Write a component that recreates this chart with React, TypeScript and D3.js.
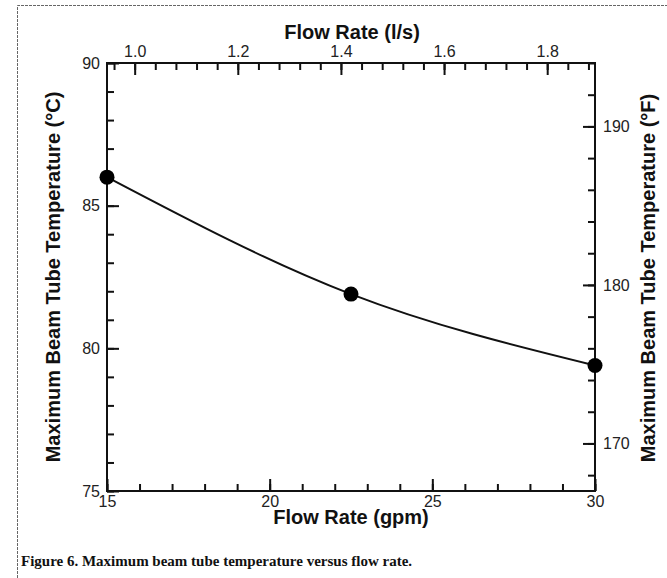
import React, { useEffect, useRef } from 'react';
import * as d3 from 'd3';

// data
const flowGpm = [15, 22.5, 30];
const maxTempC = [86.0, 81.9, 79.4];

// tick labels
const gpmTicks = [15, 20, 25, 30];
const lpsTicks = [1.0, 1.2, 1.4, 1.6, 1.8];
const tempCTicks = [75, 80, 85, 90];
const tempFTicks = [170, 180, 190];

const GPM_TO_LPS = 0.0630902;
const cToF = (c: number) => c * 9 / 5 + 32;

const App = () => {
  const chartRef = useRef<SVGSVGElement>(null);

  useEffect(() => {
    const width = 667;
    const height = 578;
    const plot = { left: 107, right: 595, top: 63, bottom: 491 };
    const font = '"Liberation Sans", Arial, Helvetica, sans-serif';

    const svg = d3.select(chartRef.current)
      .attr('width', width)
      .attr('height', height);
    svg.selectAll('*').remove();

    svg.append('rect')
      .attr('width', width)
      .attr('height', height)
      .attr('fill', '#fff');

    // dotted page border (top and left)
    svg.append('path')
      .attr('d', `M17.5,${height} V5.5 H${width}`)
      .attr('fill', 'none')
      .attr('stroke', '#666')
      .attr('stroke-width', 1)
      .attr('stroke-dasharray', '3,1');

    const xScale = d3.scaleLinear().domain([15, 30]).range([plot.left, plot.right]);
    const xTopScale = d3.scaleLinear()
      .domain([15 * GPM_TO_LPS, 30 * GPM_TO_LPS])
      .range([plot.left, plot.right]);
    const yScale = d3.scaleLinear().domain([75, 90]).range([plot.bottom, plot.top]);
    const yFScale = d3.scaleLinear().domain([cToF(75), cToF(90)]).range([plot.bottom, plot.top]);

    const styleAxis = (g: any, anchor?: string) => {
      g.select('.domain').remove();
      g.selectAll('.tick line').attr('stroke', '#111').attr('stroke-width', 2);
      g.selectAll('.tick text')
        .attr('fill', '#222')
        .attr('font-family', font)
        .attr('font-size', 16);
      if (anchor) g.selectAll('.tick text').attr('text-anchor', anchor);
    };

    // minor ticks
    const minor = (axis: any, values: number[], transform: string) => {
      const g = svg.append('g')
        .attr('transform', transform)
        .call(axis.tickValues(values).tickSize(-7).tickFormat(() => ''));
      styleAxis(g);
    };
    minor(d3.axisBottom(xScale), d3.range(15, 31, 1), `translate(0,${plot.bottom})`);
    minor(d3.axisTop(xTopScale), d3.range(0.96, 1.9, 0.04), `translate(0,${plot.top})`);
    minor(d3.axisLeft(yScale), d3.range(75, 91, 1), `translate(${plot.left},0)`);
    minor(d3.axisRight(yFScale), d3.range(168, 195, 2), `translate(${plot.right},0)`);

    // major ticks with labels
    const bottomAxis = svg.append('g')
      .attr('transform', `translate(0,${plot.bottom})`)
      .call(d3.axisBottom(xScale).tickValues(gpmTicks).tickSize(-12).tickPadding(5).tickFormat(d3.format('d')));
    styleAxis(bottomAxis);

    const topAxis = svg.append('g')
      .attr('transform', `translate(0,${plot.top})`)
      .call(d3.axisTop(xTopScale).tickValues(lpsTicks).tickSize(-12).tickPadding(6).tickFormat(d3.format('.1f')));
    styleAxis(topAxis);

    const leftAxis = svg.append('g')
      .attr('transform', `translate(${plot.left},0)`)
      .call(d3.axisLeft(yScale).tickValues(tempCTicks).tickSize(-12).tickPadding(7).tickFormat(d3.format('d')));
    styleAxis(leftAxis);

    const rightAxis = svg.append('g')
      .attr('transform', `translate(${plot.right},0)`)
      .call(d3.axisRight(yFScale).tickValues(tempFTicks).tickSize(-12).tickPadding(8).tickFormat(d3.format('d')));
    styleAxis(rightAxis);

    // frame
    svg.append('rect')
      .attr('x', plot.left)
      .attr('y', plot.top)
      .attr('width', plot.right - plot.left)
      .attr('height', plot.bottom - plot.top)
      .attr('fill', 'none')
      .attr('stroke', '#111')
      .attr('stroke-width', 2);

    // curve and markers
    const line = d3.line<number>()
      .x((d, i) => xScale(flowGpm[i]))
      .y(d => yScale(d))
      .curve(d3.curveNatural);

    svg.append('path')
      .datum(maxTempC)
      .attr('d', line)
      .attr('fill', 'none')
      .attr('stroke', '#111')
      .attr('stroke-width', 2);

    svg.selectAll('circle.pt')
      .data(maxTempC)
      .enter()
      .append('circle')
      .attr('class', 'pt')
      .attr('cx', (d, i) => xScale(flowGpm[i]))
      .attr('cy', d => yScale(d))
      .attr('r', 7.5)
      .attr('fill', '#000');

    // axis titles
    const title = (text: string, x: number, y: number, rotate = 0) => {
      svg.append('text')
        .attr('transform', `translate(${x},${y}) rotate(${rotate})`)
        .attr('text-anchor', 'middle')
        .attr('font-family', font)
        .attr('font-weight', 'bold')
        .attr('font-size', 20)
        .attr('fill', '#111')
        .text(text);
    };
    title('Flow Rate (l/s)', 352, 39);
    title('Flow Rate (gpm)', 351, 524);
    title('Maximum Beam Tube Temperature (°C)', 60, 277, -90);
    title('Maximum Beam Tube Temperature (°F)', 655, 278, -90);

    // caption
    svg.append('text')
      .attr('x', 21)
      .attr('y', 566)
      .attr('font-family', '"Liberation Serif", "Times New Roman", serif')
      .attr('font-weight', 'bold')
      .attr('font-size', 15)
      .attr('fill', '#111')
      .text('Figure 6. Maximum beam tube temperature versus flow rate.');
  }, []);

  return (
    <svg ref={chartRef} style={{ position: 'absolute', left: 0, top: 0 }}></svg>
  );
};

export default App;
